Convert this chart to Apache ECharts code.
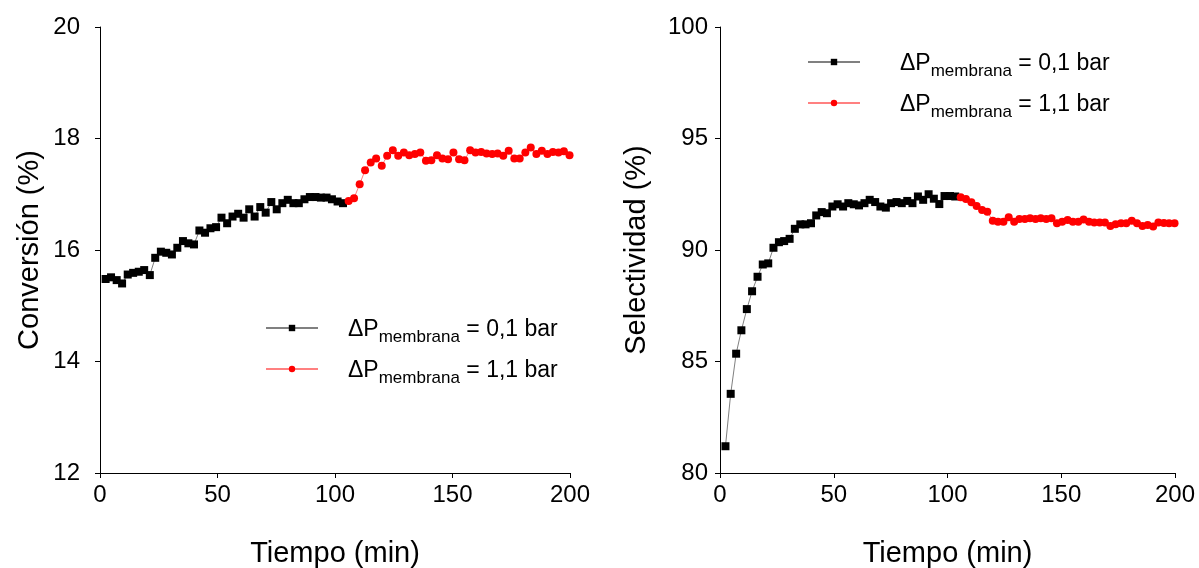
<!DOCTYPE html>
<html>
<head>
<meta charset="utf-8">
<script src="https://cdn.jsdelivr.net/npm/echarts@6/dist/echarts.min.js"></script>
<style>html,body{margin:0;padding:0;background:#fff}#c{width:1199px;height:568px}</style>
</head>
<body>
<div id="c"></div>
<script>
// Time (min) for each sample
var timeLow = [2.4,4.7,7.1,9.4,11.8,14.1,16.5,18.8,21.2,23.5,25.9,28.2,30.6,32.9,35.3,37.6,40.0,42.3,44.7,47.0,49.4,51.7,54.1,56.4,58.8,61.1,63.5,65.8,68.2,70.5,72.9,75.2,77.6,79.9,82.3,84.6,87.0,89.3,91.7,94.0,96.4,98.7,101.1,103.4];
var timeHigh = [105.8,108.1,110.5,112.8,115.2,117.5,119.9,122.2,124.6,126.9,129.3,131.6,134.0,136.3,138.7,141.0,143.4,145.7,148.1,150.4,152.8,155.1,157.5,159.8,162.2,164.5,166.9,169.2,171.6,173.9,176.3,178.6,181.0,183.3,185.7,188.0,190.4,192.7,195.1,197.4,199.8];

// Conversión (%)
var convLow = [15.48,15.51,15.46,15.40,15.56,15.59,15.61,15.64,15.55,15.86,15.97,15.95,15.92,16.04,16.16,16.12,16.10,16.35,16.31,16.39,16.41,16.58,16.48,16.60,16.65,16.58,16.73,16.60,16.77,16.67,16.86,16.73,16.84,16.90,16.84,16.84,16.91,16.95,16.95,16.94,16.94,16.91,16.87,16.84];
var convHigh = [16.88,16.93,17.18,17.43,17.57,17.64,17.51,17.69,17.79,17.69,17.75,17.70,17.72,17.75,17.60,17.61,17.70,17.64,17.63,17.75,17.63,17.61,17.79,17.75,17.76,17.73,17.72,17.73,17.69,17.78,17.64,17.64,17.75,17.84,17.72,17.78,17.72,17.76,17.75,17.77,17.70];

// Selectividad (%)
var selLow = [81.2,83.55,85.35,86.4,87.35,88.15,88.8,89.35,89.4,90.1,90.35,90.4,90.5,90.95,91.15,91.15,91.2,91.55,91.7,91.65,91.95,92.05,91.95,92.1,92.05,92.0,92.1,92.25,92.15,91.95,91.9,92.1,92.15,92.1,92.2,92.1,92.4,92.25,92.5,92.3,92.06,92.42,92.42,92.4];
var selHigh = [92.36,92.29,92.14,91.97,91.79,91.72,91.31,91.27,91.27,91.47,91.27,91.39,91.39,91.42,91.39,91.42,91.39,91.42,91.20,91.27,91.35,91.27,91.27,91.37,91.27,91.23,91.23,91.23,91.08,91.15,91.20,91.20,91.31,91.20,91.08,91.12,91.05,91.23,91.21,91.20,91.20];

var seriesNames = ['0,1', '1,1'];
var xTicks = {min: 0, max: 200, interval: 50};
var convTicks = {min: 12, max: 20, interval: 2};
var selTicks = {min: 80, max: 100, interval: 5};

function pairs(t, v) { return t.map(function (x, i) { return [x, v[i]]; }); }

var FONT = 'Liberation Sans, Arial, sans-serif';
var axisLine = {show: true, lineStyle: {color: '#000', width: 1}};
var axisTick = {show: true, inside: false, length: 5, lineStyle: {color: '#000'}};

function xAxis(grid) {
  return {
    type: 'value', gridIndex: grid, min: xTicks.min, max: xTicks.max, interval: xTicks.interval,
    name: 'Tiempo (min)', nameLocation: 'middle', nameGap: 66,
    nameTextStyle: {fontFamily: FONT, fontSize: 29, color: '#000'},
    axisLine: axisLine, axisTick: axisTick, splitLine: {show: false},
    axisLabel: {fontFamily: FONT, fontSize: 24, color: '#000', margin: 10}
  };
}
function yAxis(grid, ticks, name, gap, margin) {
  return {
    type: 'value', gridIndex: grid, min: ticks.min, max: ticks.max, interval: ticks.interval,
    name: name, nameLocation: 'middle', nameGap: gap,
    nameTextStyle: {fontFamily: FONT, fontSize: 29, color: '#000'},
    axisLine: axisLine, axisTick: axisTick, splitLine: {show: false},
    axisLabel: {fontFamily: FONT, fontSize: 24, color: '#000', margin: margin}
  };
}

function lowSeries(x, y, data) {
  return {
    name: seriesNames[0], type: 'line', xAxisIndex: x, yAxisIndex: y, data: data,
    symbol: 'rect', symbolSize: 8, showSymbol: true,
    itemStyle: {color: '#000'}, lineStyle: {color: '#808080', width: 1}, animation: false
  };
}
function highSeries(x, y, data) {
  return {
    name: seriesNames[1], type: 'line', xAxisIndex: x, yAxisIndex: y, data: data,
    symbol: 'circle', symbolSize: 8, showSymbol: true,
    itemStyle: {color: '#ff0000'}, lineStyle: {color: '#ff8080', width: 1}, animation: false
  };
}

var rich = {
  a: {fontFamily: FONT, fontSize: 23, color: '#000', lineHeight: 26, verticalAlign: 'bottom'},
  b: {fontFamily: FONT, fontSize: 17, color: '#000', lineHeight: 26, verticalAlign: 'bottom', padding: [0, 0, -5, 0]}
};
function legend(left, top, gap) {
  return {
    data: seriesNames, orient: 'vertical', left: left, top: top,
    itemWidth: 52, itemHeight: 8, itemGap: 13,
    formatter: function (n) { return '{a|\u0394P}{b|membrana}{a| = ' + n + ' bar}'; },
    textStyle: {rich: rich, padding: [0, 0, 0, gap]},
    selectedMode: false
  };
}

var chart = echarts.init(document.getElementById('c'), null, {renderer: 'canvas'});
chart.setOption({
  backgroundColor: '#fff',
  animation: false,
  grid: [
    {left: 100, top: 27, width: 470, height: 446, containLabel: false, outerBoundsMode: 'none'},
    {left: 720, top: 27, width: 455, height: 446, containLabel: false, outerBoundsMode: 'none'}
  ],
  xAxis: [xAxis(0), xAxis(1)],
  yAxis: [yAxis(0, convTicks, 'Conversión (%)', 56, 20), yAxis(1, selTicks, 'Selectividad (%)', 69, 12)],
  legend: [legend(260, 313, 25), legend(802, 47, 35)],
  series: [
    lowSeries(0, 0, pairs(timeLow, convLow)),
    highSeries(0, 0, pairs(timeHigh, convHigh)),
    lowSeries(1, 1, pairs(timeLow, selLow)),
    highSeries(1, 1, pairs(timeHigh, selHigh))
  ]
});
</script>
</body>
</html>
